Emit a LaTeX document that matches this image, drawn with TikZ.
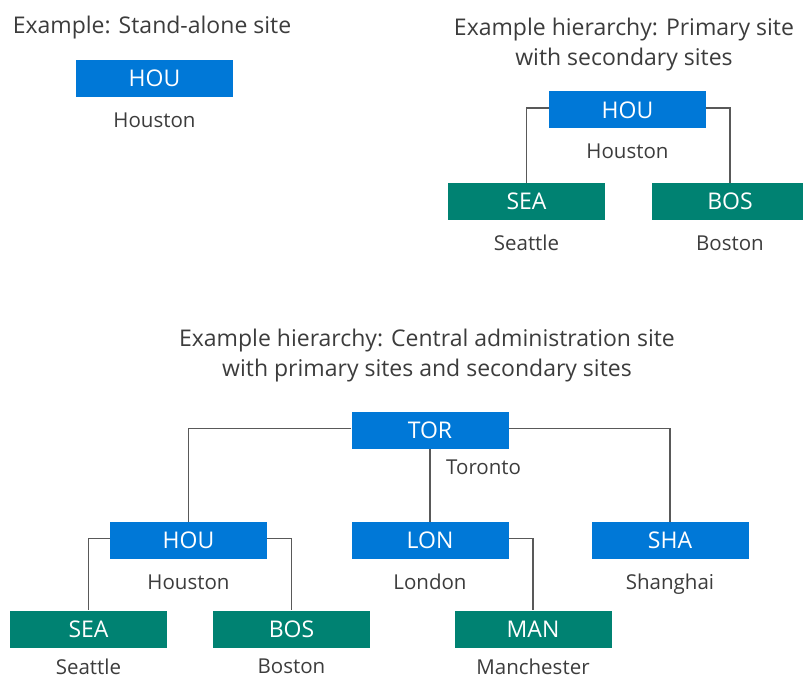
\documentclass[tikz,border=0pt]{standalone}
\usepackage{fontspec}
\setmainfont{Open Sans}
\usetikzlibrary{positioning}
\definecolor{siteblue}{HTML}{0078D7}
\definecolor{siteteal}{HTML}{008272}
\definecolor{linegray}{HTML}{595959}
\definecolor{textgray}{HTML}{3C3C3C}

\begin{document}
\begin{tikzpicture}[x=1pt, y=-1pt]
      \tikzset{site/.style={fill=siteblue, text=white, font=\fontsize{23}{26}\selectfont,
        minimum width=157pt, minimum height=37pt, inner sep=0pt}};
      \tikzset{secsite/.style={site, fill=siteteal}};
      \tikzset{city/.style={text=textgray, font=\fontsize{20.5}{24}\selectfont, inner sep=0pt}};
      \tikzset{title/.style={text=textgray, font=\fontsize{23}{30}\selectfont, align=center}};
      \tikzset{link/.style={draw=linegray, line width=1.5pt}};
      \useasboundingbox (0,0) rectangle (803,682);

      % stand-alone
      \node[title](t1) at (152,28){Example: Stand-alone site};
      \node[site](hou1) at (154.5,78.5){HOU};
      \node[city, below = 15pt of hou1](hou1c){Houston};

      % primary with secondaries
      \node[title](t2) at (624,45){Example hierarchy: Primary site\\with secondary sites};
      \node[site](hou2) at (627.5,110){HOU};
      \node[secsite](sea2) at (526.5,201.5){SEA};
      \node[secsite](bos2) at (730,201.5){BOS};
      \node[city, below = 15pt of hou2](hou2c){Houston};
      \node[city, below = 15pt of sea2](sea2c){Seattle};
      \node[city, below = 15pt of bos2](bos2c){Boston};
      \draw[link] ([yshift=2pt]hou2.west) -| (sea2.north);
      \draw[link] ([yshift=2pt]hou2.east) -| (bos2.north);

      % CAS hierarchy
      \node[title](t3) at (427,356){Example hierarchy: Central administration site\\with primary sites and secondary sites};
      \node[site](tor) at (430,430.5){TOR};
      \node[site](hou3) at (188.5,540.5){HOU};
      \node[site](lon) at (430,540.5){LON};
      \node[site](sha) at (670,540.5){SHA};
      \node[secsite](sea3) at (88.5,629){SEA};
      \node[secsite](bos3) at (291.5,629){BOS};
      \node[secsite](man) at (533,629){MAN};
      \node[city, below right = 10pt and 16pt of tor.south](torc){Toronto};
      \node[city, below = 15pt of hou3](hou3c){Houston};
      \node[city, below = 15pt of lon](lonc){London};
      \node[city, below = 15pt of sha](shac){Shanghai};
      \node[city, below = 11pt of sea3](sea3c){Seattle};
      \node[city, below = 11pt of bos3](bos3c){Boston};
      \node[city, below = 11pt of man](manc){Manchester};
      \draw[link] ([yshift=2pt]tor.west) -| (hou3.north);
      \draw[link] ([yshift=2pt]tor.east) -| (sha.north);
      \draw[link] (tor.south) -- (lon.north);
      \draw[link] ([yshift=2pt]hou3.west) -| (sea3.north);
      \draw[link] ([yshift=2pt]hou3.east) -| (bos3.north);
      \draw[link] ([yshift=2pt]lon.east) -| (man.north);
\end{tikzpicture}
\end{document}
